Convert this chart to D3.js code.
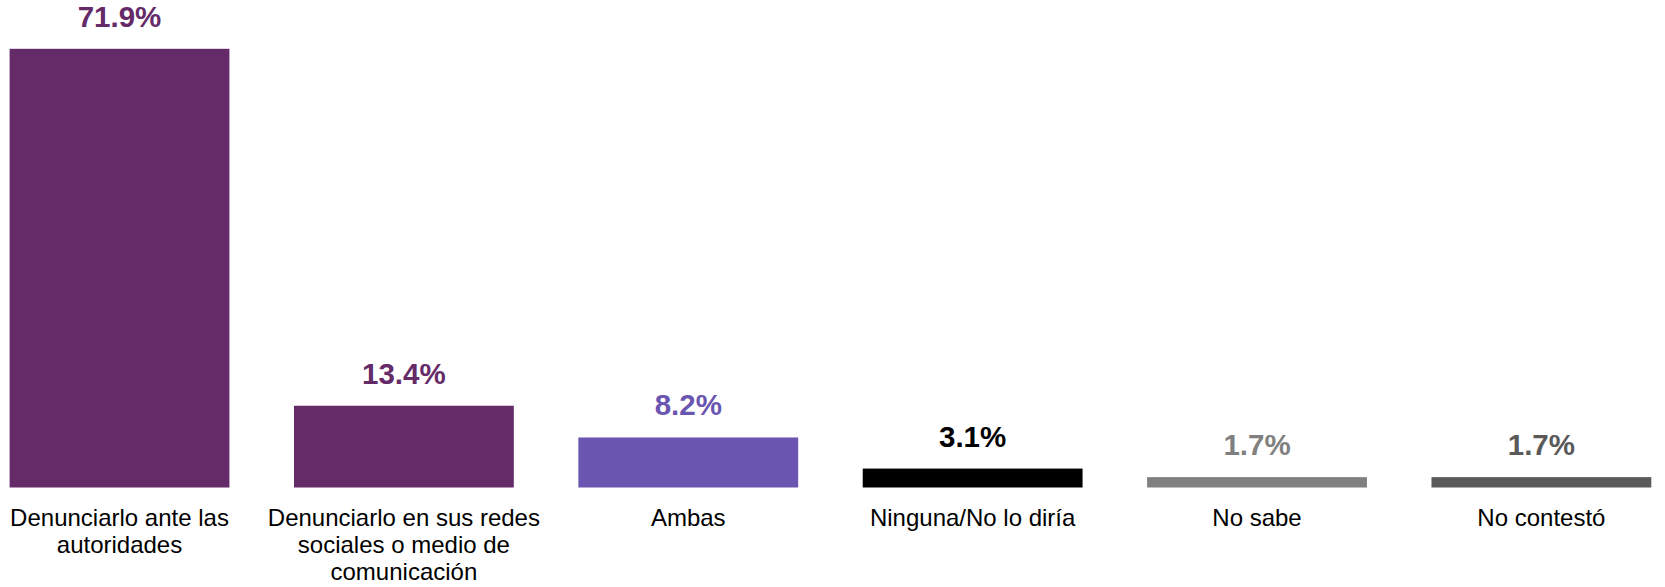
<!DOCTYPE html>
<html>
<head>
<meta charset="utf-8">
<script src="https://cdn.jsdelivr.net/npm/d3@7"></script>
<style>
body { margin:0; background:#ffffff; }
svg { display:block; font-family:"Liberation Sans", Arial, Helvetica, sans-serif; }
</style>
</head>
<body>
<svg></svg>
<script>
var categories = ["Denunciarlo ante las autoridades",
                  "Denunciarlo en sus redes sociales o medio de comunicación",
                  "Ambas",
                  "Ninguna/No lo diría",
                  "No sabe",
                  "No contestó"]

var values = [71.9, 13.4, 8.2, 3.1, 1.7, 1.7]

var valueLabels = ["71.9%", "13.4%", "8.2%", "3.1%", "1.7%", "1.7%"]

var colors = ["#652b69", "#652b69", "#6a55b0", "#000000", "#808080", "#5a5a5a"]

var screen = {width:1665,height:587}

// bar area
var plot = {left:9.6,right:1651.3,top:48.8,bottom:487.5}

var svg = d3.select("svg")
            .attr("width",screen.width)
            .attr("height",screen.height)

var xScale = d3.scaleBand()
               .domain(categories)
               .range([plot.left,plot.right])
               .paddingInner(0.227)
               .paddingOuter(0)

var yScale = d3.scaleLinear()
               .domain([0,d3.max(values)])
               .range([plot.bottom,plot.top])

var bars = svg.append("g")
              .attr("id","bars")
              .selectAll("rect")
              .data(values)
              .enter()
              .append("rect")
              .attr("x",function(d,i){ return xScale(categories[i])})
              .attr("y",function(d){ return yScale(d)})
              .attr("width",xScale.bandwidth())
              .attr("height",function(d){ return yScale(0)-yScale(d)})
              .attr("fill",function(d,i){ return colors[i]})

var labels = svg.append("g")
                .attr("id","values")
                .selectAll("text")
                .data(values)
                .enter()
                .append("text")
                .attr("x",function(d,i){ return xScale(categories[i])+xScale.bandwidth()/2})
                .attr("y",function(d){ return yScale(d)-22})
                .attr("text-anchor","middle")
                .attr("font-size","29.5px")
                .attr("font-weight","bold")
                .attr("fill",function(d,i){ return colors[i]})
                .text(function(d,i){ return valueLabels[i]})

var xAxis = d3.axisBottom(xScale)
              .tickSize(0)
              .tickPadding(0)

var axisG = svg.append("g")
               .attr("id","xAxis")
               .attr("transform","translate(0,"+plot.bottom+")")
               .call(xAxis)

axisG.select(".domain").remove()

axisG.selectAll("text")
     .attr("font-size","24px")
     .attr("font-family","\"Liberation Sans\", Arial, Helvetica, sans-serif")
     .attr("fill","#000000")
     .attr("dy",null)
     .attr("y",38.8)
     .call(wrap, xScale.step()-6)

// break long category names onto several lines
function wrap(texts, width)
{
    texts.each(function(){
        var text = d3.select(this)
        var words = text.text().split(" ")
        var y = text.attr("y")
        var line = []
        var lineNo = 0
        text.text(null)
        var tspan = text.append("tspan").attr("x",0).attr("y",y)
        words.forEach(function(w){
            line.push(w)
            tspan.text(line.join(" "))
            if(tspan.node().getComputedTextLength() > width && line.length > 1)
            {
                line.pop()
                tspan.text(line.join(" "))
                line = [w]
                lineNo++
                tspan = text.append("tspan")
                            .attr("x",0)
                            .attr("y",y)
                            .attr("dy",(lineNo*27)+"px")
                            .text(w)
            }
        })
    })
}
</script>
</body>
</html>
